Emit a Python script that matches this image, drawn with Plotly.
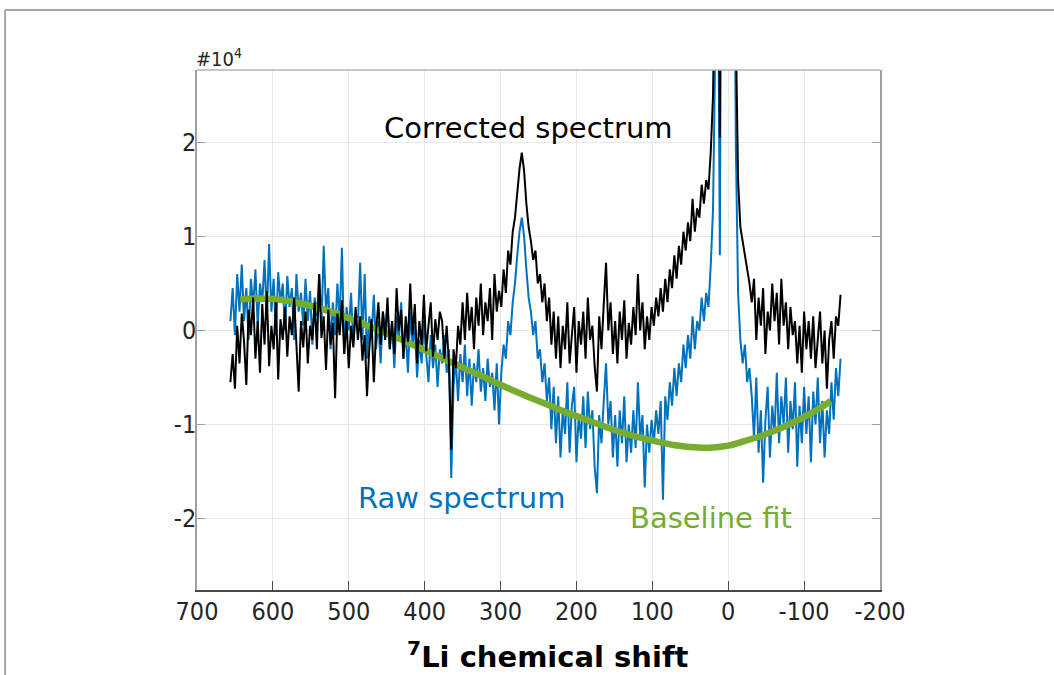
import numpy as np
import plotly.graph_objects as go

# chemical shift grid (ppm), one sample every 3 ppm from 656 down to -148
shift = np.arange(656, -149, -3)

# corrected spectrum (x 1e4)
corrected = [
    -0.55, -0.25, -0.62, 0.05, -0.35, 0.18, -0.12, -0.58, 0.22, -0.05,
    0.35, -0.3, 0.1, -0.45, 0.28, -0.15, 0.42, -0.38, 0.05, -0.2,
    0.3, -0.52, 0.12, -0.1, 0.25, -0.28, 0.15, -0.05, 0.35, -0.22,
    -0.65, 0.1, -0.18, 0.2, -0.35, 0.05, -0.1, 0.3, -0.2, 0.6,
    -0.08, 0.15, -0.42, 0.22, -0.15, 0.08, -0.72, 0.18, -0.05, 0.32,
    -0.25, 0.1, -0.4, 0.05, -0.18, 0.25, -0.1, 0.15, -0.32, -0.05,
    -0.7, -0.2, 0.12, -0.55, 0.0, 0.3, -0.15, 0.2, -0.1, 0.35,
    -0.2, 0.1, -0.25, 0.45, 0.0, 0.22, -0.3, 0.15, -0.12, 0.5,
    -0.05, 0.28, -0.35, 0.1, -0.15, 0.38, -0.22, 0.05, 0.3, -0.28,
    0.12, -0.1, 0.2, 0.1, -0.3, 0.05, -0.35, -1.27, -0.2, -0.4,
    0.05, -0.15, 0.3, -0.1, 0.4, 0.0, 0.25, -0.2, 0.35, 0.05,
    0.5, -0.05, 0.3, 0.1, 0.45, -0.1, 0.6, 0.2, 0.42, 0.25,
    0.65, 0.4, 0.85, 0.7, 1.05, 1.2, 1.5, 1.72, 1.89, 1.7,
    1.35, 1.1, 0.95, 0.75, 0.85, 0.5, 0.6, 0.3, 0.5, 0.1,
    0.35, -0.15, 0.2, -0.3, 0.15, -0.4, 0.05, -0.2, 0.3, -0.35,
    -0.05, 0.25, -0.45, 0.1, -0.15, 0.2, -0.3, 0.35, -0.1, 0.05,
    -0.38, -0.65, 0.15, -0.2, 0.28, 0.72, 0.0, 0.3, -0.25, 0.1,
    -0.35, 0.2, -0.1, 0.32, -0.3, 0.08, -0.15, 0.25, -0.05, 0.6,
    0.0, 0.3, -0.2, 0.15, -0.1, 0.25, 0.05, 0.35, 0.15, 0.45,
    0.2, 0.55, 0.3, 0.65, 0.45, 0.8, 0.55, 0.9, 0.7, 1.05,
    0.85, 1.15, 0.95, 1.4, 1.05, 1.3, 1.2, 1.55, 1.35, 1.6,
    1.5, 1.9, 2.5, 3.8, 6.0, 2.05, 5.5, 12, 22, 28,
    18, 7, 3.2, 1.6, 1.1, 0.95, 0.8, 0.65, 0.5, 0.3,
    0.55, -0.1, 0.35, 0.05, 0.45, -0.25, 0.2, 0.0, 0.5, 0.1,
    0.4, -0.15, 0.55, 0.05, 0.3, -0.2, 0.25, -0.05, 0.1, -0.35,
    0.05, -0.45, 0.2, -0.2, 0.1, -0.3, 0.15, -0.4, -0.05, 0.2,
    -0.35, 0.0, -0.62, -0.1, 0.1, -0.3, 0.15, 0.05, 0.38,
]

# raw spectrum (x 1e4)
raw = [
    0.1, 0.45, -0.05, 0.6, 0.2, 0.7, 0.1, 0.45, -0.1, 0.55,
    0.25, 0.65, 0.05, 0.5, 0.3, 0.75, 0.15, 0.92, 0.2, 0.55,
    -0.05, 0.62, 0.3, 0.5, 0.0, 0.58, 0.25, 0.45, -0.1, 0.6,
    0.2, 0.4, 0.05, 0.55, 0.1, 0.42, -0.15, 0.35, 0.15, 0.6,
    0.05, 0.9, 0.2, 0.45, -0.2, 0.3, -0.05, 0.5, 0.1, 0.88,
    -0.25, 0.25, 0.0, 0.4, -0.15, 0.2, 0.05, 0.72, -0.1, 0.6,
    -0.3, 0.15, -0.05, 0.38, -0.2, 0.1, -0.35, 0.2, 0.0, 0.25,
    -0.2, 0.1, -0.4, 0.15, -0.1, 0.3, -0.3, 0.0, -0.45, 0.2,
    -0.15, 0.05, -0.5, -0.1, -0.35, 0.1, -0.25, -0.55, -0.05, -0.4,
    -0.15, -0.6, -0.2, -0.35, -0.05, -0.45, -0.2, -1.57, -0.6, -0.3,
    -0.75, -0.25, -0.55, -0.15, -0.7, -0.3, -0.8, -0.35, -0.55, -0.2,
    -0.65, -0.4, -0.75, -0.3, -0.6, -0.45, -0.85, -0.35, -1.0, -0.45,
    -0.15, -0.3, 0.1, -0.05, 0.3, 0.5, 0.8, 1.05, 1.2, 1.0,
    0.65, 0.35, 0.2, -0.05, 0.1, -0.3, -0.2, -0.55, -0.35, -0.75,
    -0.5, -1.05, -0.6, -1.2, -0.7, -1.35, -0.85, -1.1, -0.55, -1.3,
    -0.8, -0.6, -1.4, -0.9, -1.15, -0.7, -1.25, -0.65, -1.05, -0.85,
    -1.45, -1.73, -0.9, -1.2, -0.75, -0.35, -1.0, -0.75, -1.35, -0.9,
    -1.45, -0.85, -1.2, -0.7, -1.4, -1.0, -1.3, -0.85, -1.25, -0.55,
    -1.15, -0.9, -1.67, -1.0, -1.3, -0.95, -1.2, -0.85, -1.1, -0.75,
    -1.8, -0.7, -0.95, -0.55, -0.8, -0.4, -0.7, -0.35, -0.55, -0.15,
    -0.4, -0.05, -0.3, 0.15, -0.2, 0.1, 0.0, 0.35, 0.1, 0.4,
    0.25, 0.7, 1.3, 2.6, 4.8, 0.8, 4.3, 11, 21, 27,
    17, 5.8, 2.0, 0.4, -0.1, -0.35, -0.15, -0.55, -0.4, -0.7,
    -1.15, -0.5, -1.3, -0.85, -1.62, -0.95, -0.6, -1.35, -0.8, -1.1,
    -0.45, -1.2, -0.7, -1.0, -0.5, -1.3, -0.75, -1.05, -0.55, -1.45,
    -0.8, -1.2, -0.6, -1.1, -0.7, -1.4, -0.65, -1.0, -0.5, -1.2,
    -0.75, -1.35, -0.85, -1.1, -0.55, -0.95, -0.4, -0.7, -0.3,
]

# baseline fit (x 1e4)
base_shift = [643, 620, 600, 577, 550, 520, 490, 460, 430, 400, 370, 340, 310,
              280, 250, 220, 190, 160, 130, 100, 70, 40, 20, 0, -20, -40,
              -60, -80, -100, -120, -135]
base_val = [0.33, 0.34, 0.335, 0.31, 0.26, 0.19, 0.10, 0.0, -0.10, -0.21,
            -0.32, -0.43, -0.54, -0.65, -0.75, -0.85, -0.94, -1.03, -1.11,
            -1.17, -1.22, -1.245, -1.245, -1.225, -1.18, -1.13, -1.07, -1.0,
            -0.92, -0.83, -0.75]

x_ticks = [700, 600, 500, 400, 300, 200, 100, 0, -100, -200]
x_labels = ['700', '600', '500', '400', '300', '200', '100', '0', '-100', '-200']
y_ticks = [-2, -1, 0, 1, 2]
y_labels = ['-2', '-1', '0', '1', '2']

BLUE = '#0072BD'
GREEN = '#77AC30'
TICK_FONT = 'DejaVu Sans Condensed, Liberation Sans Narrow, Liberation Sans, sans-serif'
TEXT_FONT = 'DejaVu Sans, Verdana, sans-serif'

fig = go.Figure()
fig.add_trace(go.Scatter(x=shift, y=raw, mode='lines',
                         line=dict(color=BLUE, width=2), showlegend=False))
fig.add_trace(go.Scatter(x=base_shift, y=base_val, mode='lines',
                         line=dict(color=GREEN, width=6.5, shape='spline'),
                         showlegend=False))
fig.add_trace(go.Scatter(x=shift, y=corrected, mode='lines',
                         line=dict(color='black', width=2), showlegend=False))


def label(text, x, y, color, **kw):
    fig.add_annotation(text=text, x=x, y=y, xref='paper', yref='paper',
                       xanchor=kw.pop('xanchor', 'center'), yanchor=kw.pop('yanchor', 'middle'),
                       showarrow=False,
                       font=dict(family=kw.pop('family', TEXT_FONT), size=kw.pop('size', 29),
                                 color=color), **kw)


# labels drawn on the plot
label('Corrected spectrum', 0.486, 0.888, 'black')
label('Raw spectrum', 0.387, 0.176, BLUE)
label('Baseline fit', 0.753, 0.138, GREEN)
label('<b><sup>7</sup>Li chemical shift</b>', 0.5146, -0.125, 'black')
label('#10<sup>4</sup>', 0.0, 1.0, '#262626', xanchor='left', yanchor='bottom',
      family=TICK_FONT, size=20, xshift=-3, yshift=-3)

# top box edge and the outer frame of the screenshot
fig.add_shape(type='line', xref='paper', yref='paper', x0=0, x1=1, y0=1, y1=1,
              line=dict(color='#b5b5b5', width=1.5))
fig.add_shape(type='line', xref='paper', yref='paper', x0=-0.281, x1=-0.281,
              y0=-0.2, y1=1.1154, line=dict(color='#a6a6a6', width=2))
fig.add_shape(type='line', xref='paper', yref='paper', x0=-0.281, x1=1.3,
              y0=1.1154, y1=1.1154, line=dict(color='#a6a6a6', width=2))

fig.update_xaxes(range=[700, -200], tickvals=x_ticks, ticktext=x_labels,
                 showgrid=True, gridcolor='#e8e8e8', gridwidth=1, zeroline=False,
                 showline=True, linecolor='#4a4a4a', linewidth=1.5,
                 ticks='inside', ticklen=9, tickcolor='#4a4a4a', tickwidth=1.2,
                 ticklabelstandoff=-2,
                 tickfont=dict(family=TICK_FONT, size=25, color='#262626'))
fig.update_yaxes(range=[-2.76, 2.77], tickvals=y_ticks, ticktext=y_labels,
                 showgrid=True, gridcolor='#e8e8e8', gridwidth=1, zeroline=False,
                 showline=True, linecolor='#a0a0a0', linewidth=1.5, mirror='ticks',
                 ticks='inside', ticklen=8, tickcolor='#a0a0a0', tickwidth=1.2,
                 ticklabelstandoff=-6,
                 tickfont=dict(family=TICK_FONT, size=25, color='#262626'))

fig.update_layout(width=1054, height=675, plot_bgcolor='white', paper_bgcolor='white',
                  margin=dict(l=197, r=174, t=70, b=85), showlegend=False)

fig.write_html('out.html', config={'displayModeBar': False},
               post_script="document.body.style.margin='0';document.body.style.overflow='hidden';")
